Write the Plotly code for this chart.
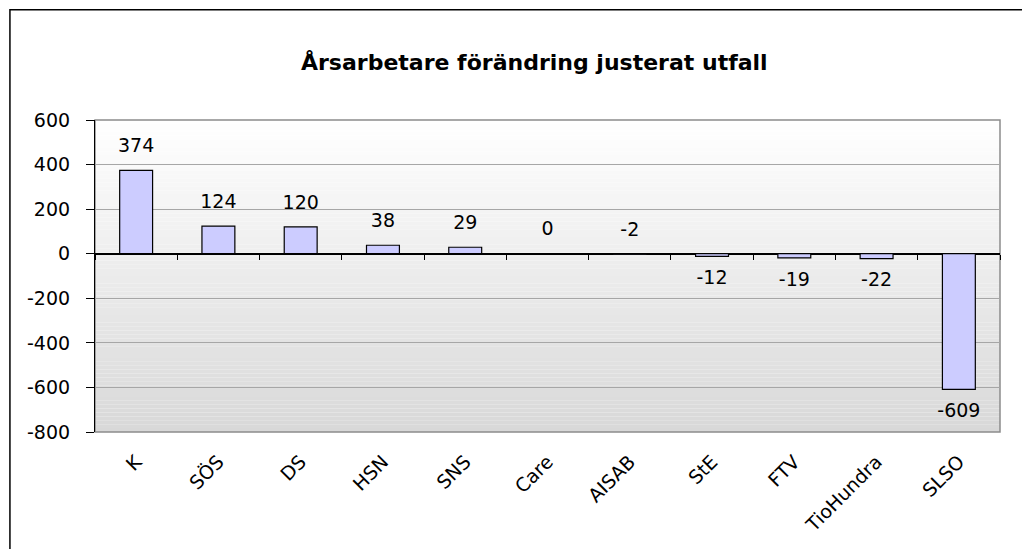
import plotly.graph_objects as go

categories = ["K", "SÖS", "DS", "HSN", "SNS", "Care", "AISAB", "StE", "FTV", "TioHundra", "SLSO"]
values = [374, 124, 120, 38, 29, 0, -2, -12, -19, -22, -609]
y_ticks = [600, 400, 200, 0, -200, -400, -600, -800]

y_min, y_max = -800, 600
font = "DejaVu Sans, Arial, sans-serif"

fig = go.Figure()

fig.add_trace(go.Bar(
    x=categories, y=values, width=0.4,
    marker=dict(color="#ccccff", line=dict(color="black", width=1.2)),
    hoverinfo="x+y",
))

# data labels: small bars keep their label on top, like the original
text_pos = ["top center" if v > -10 else "bottom center" for v in values]
fig.add_trace(go.Scatter(
    x=categories, y=values, xaxis="x2", mode="markers+text",
    text=[str(v) for v in values], textposition=text_pos,
    textfont=dict(family=font, size=19, color="black"),
    marker=dict(size=20, color="rgba(0,0,0,0)"),
    hoverinfo="skip", showlegend=False,
))

# vertical gradient behind the plot area
shapes = []
n = 80
for i in range(n):
    g = int(round(255 - (255 - 216) * (1 - (i + 0.5) / n)))
    shapes.append(dict(
        type="rect", xref="paper", yref="paper",
        x0=0, x1=1, y0=i / n, y1=(i + 1) / n,
        fillcolor=f"rgb({g},{g},{g})", line=dict(width=0), layer="below",
    ))
# plot area frame
shapes.append(dict(type="rect", xref="paper", yref="paper", x0=0, x1=1, y0=0, y1=1,
                   line=dict(color="#8c8c8c", width=1.5), layer="below"))
# outer chart frame (left and top edges visible)
shapes.append(dict(type="path", xref="paper", yref="paper",
                   path="M -0.094,-0.6 L -0.094,1.353 L 1.2,1.353",
                   line=dict(color="black", width=1.5)))

# the page body adds an 8px margin, so the figure is a bit smaller than the window
fig.update_layout(
    width=1022, height=541,
    margin=dict(l=87, r=30, t=112, b=117),
    paper_bgcolor="white", plot_bgcolor="rgba(0,0,0,0)",
    showlegend=False,
    shapes=shapes,
    title=dict(text="<b>Årsarbetare förändring justerat utfall</b>",
               x=0.515, xref="container", xanchor="center",
               y=0.90, yref="container", yanchor="middle",
               font=dict(family=font, size=22, color="black")),
    font=dict(family=font, color="black"),
    xaxis=dict(type="category", categoryarray=categories, categoryorder="array",
               showgrid=False, showline=False, ticks="", tickangle=-45,
               ticklabelstandoff=14,
               tickfont=dict(size=19), range=[-0.5, len(categories) - 0.5]),
    xaxis2=dict(type="category", categoryarray=categories, categoryorder="array",
                overlaying="x", matches="x", anchor="free",
                position=(0 - y_min) / (y_max - y_min),
                showgrid=False, showline=False, showticklabels=False,
                ticks="outside", tickson="boundaries", ticklen=5,
                tickcolor="black", tickwidth=1.2),
    yaxis=dict(range=[y_min, y_max], tickvals=y_ticks,
               ticktext=[str(v) for v in y_ticks], showgrid=True,
               gridcolor="#a6a6a6", gridwidth=1,
               zeroline=True, zerolinecolor="black", zerolinewidth=1.5,
               showline=True, linecolor="black", linewidth=1.2,
               ticks="outside", ticklen=8, tickcolor="black",
               ticklabelstandoff=12,
               tickfont=dict(size=19)),
)

fig.write_html("out.html")
